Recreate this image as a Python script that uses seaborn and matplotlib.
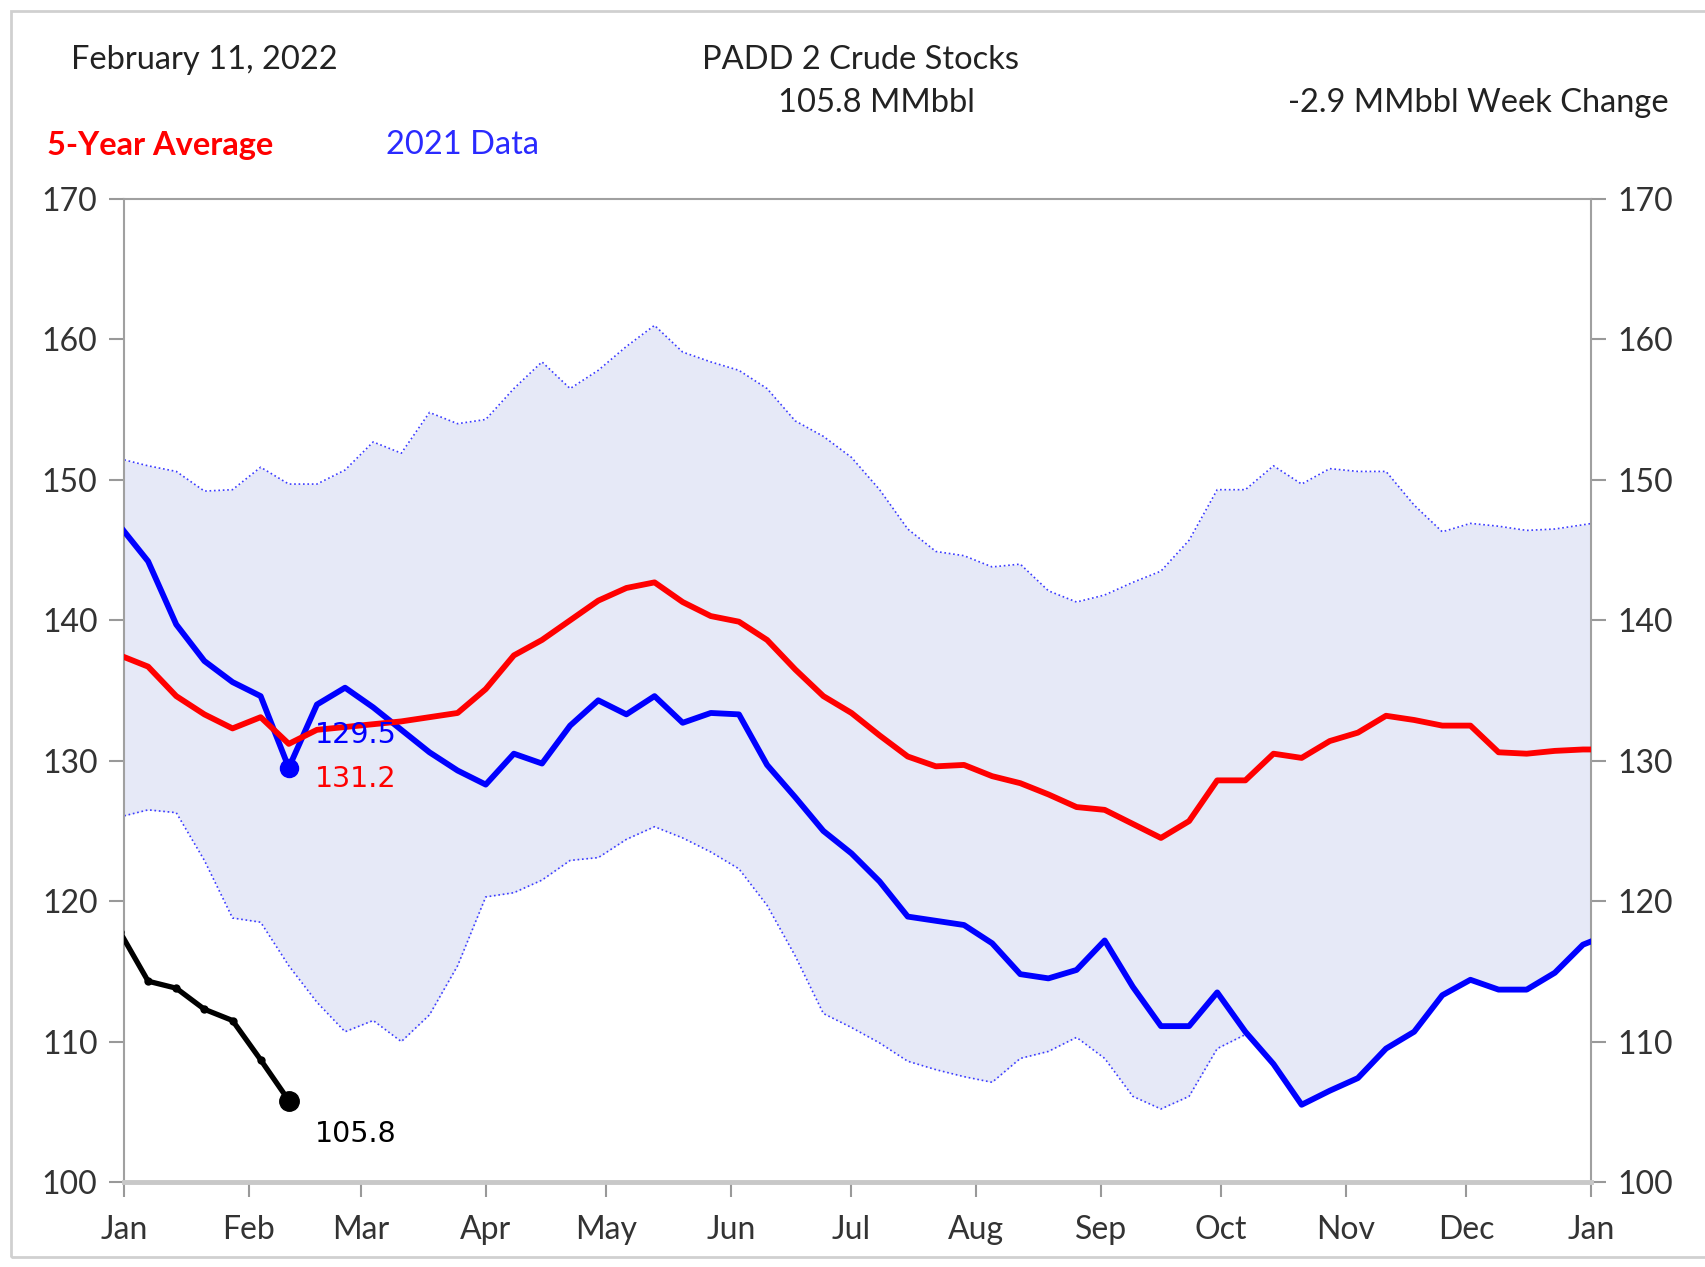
import numpy as np
import pandas as pd
import matplotlib
matplotlib.use("Agg")
import matplotlib.pyplot as plt
from matplotlib.patches import Rectangle
import seaborn as sns

# weekly points, day-of-year (week ending Fridays aligned to 2022)
week_days = np.arange(-1, 371, 7)

five_year_avg = [137.5, 136.7, 134.6, 133.3, 132.3, 133.1, 131.2, 132.2, 132.4, 132.6,
                 132.8, 133.1, 133.4, 135.1, 137.5, 138.6, 140.0, 141.4, 142.3, 142.7,
                 141.3, 140.3, 139.9, 138.6, 136.5, 134.6, 133.4, 131.8, 130.3, 129.6,
                 129.7, 128.9, 128.4, 127.6, 126.7, 126.5, 125.5, 124.5, 125.7, 128.6,
                 128.6, 130.5, 130.2, 131.4, 132.0, 133.2, 132.9, 132.5, 132.5, 130.6,
                 130.5, 130.7, 130.8, 130.8]

data_2021 = [146.7, 144.2, 139.7, 137.1, 135.6, 134.6, 129.5, 134.0, 135.2, 133.8,
             132.2, 130.6, 129.3, 128.3, 130.5, 129.8, 132.5, 134.3, 133.3, 134.6,
             132.7, 133.4, 133.3, 129.7, 127.4, 125.0, 123.4, 121.4, 118.9, 118.6,
             118.3, 117.0, 114.8, 114.5, 115.1, 117.2, 113.9, 111.1, 111.1, 113.5,
             110.7, 108.4, 105.5, 106.5, 107.4, 109.5, 110.7, 113.3, 114.4, 113.7,
             113.7, 114.9, 116.9, 117.7]

range_upper = [151.5, 151.0, 150.6, 149.2, 149.3, 150.9, 149.7, 149.7, 150.7, 152.7,
               151.9, 154.8, 154.0, 154.3, 156.5, 158.4, 156.5, 157.8, 159.5, 161.0,
               159.1, 158.4, 157.8, 156.5, 154.2, 153.1, 151.6, 149.3, 146.5, 144.9,
               144.6, 143.8, 144.0, 142.1, 141.3, 141.8, 142.7, 143.5, 145.7, 149.3,
               149.3, 151.0, 149.7, 150.8, 150.6, 150.6, 148.2, 146.3, 146.9, 146.7,
               146.4, 146.5, 146.8, 147.1]

range_lower = [126.0, 126.5, 126.3, 122.9, 118.8, 118.5, 115.4, 112.8, 110.7, 111.5,
               110.0, 111.9, 115.4, 120.3, 120.6, 121.5, 122.9, 123.1, 124.4, 125.3,
               124.5, 123.5, 122.3, 119.7, 116.1, 112.0, 111.0, 109.9, 108.6, 108.0,
               107.5, 107.1, 108.8, 109.3, 110.3, 108.8, 106.1, 105.2, 106.1, 109.5,
               110.5, 108.4, 105.5, 106.5, 107.4, 109.5, 110.7, 113.3, 114.4, 113.7,
               113.7, 114.9, 116.9, 117.7]

days_2022 = [-1, 6, 13, 20, 27, 34, 41]
data_2022 = [117.8, 114.3, 113.8, 112.3, 111.5, 108.7, 105.8]

month_starts = [0, 31, 59, 90, 120, 151, 181, 212, 243, 273, 304, 334, 365]
month_labels = ["Jan", "Feb", "Mar", "Apr", "May", "Jun", "Jul", "Aug", "Sep",
                "Oct", "Nov", "Dec", "Jan"]
y_ticks = [100, 110, 120, 130, 140, 150, 160, 170]

sns.set_style("white")
plt.rcParams["font.family"] = ["Lato", "DejaVu Sans"]

W, H = 1705, 1267
fig = plt.figure(figsize=(W / 100, H / 100), dpi=100)
ax = fig.add_axes([124 / W, 1 - 1182 / H, (1591 - 124) / W, (1182 - 199) / H])

# outer frame
fig.patches.append(Rectangle((11 / W, 1 - 1257 / H), 1.0, (1257 - 11) / H,
                             transform=fig.transFigure, fill=False,
                             edgecolor="#d0d0d0", linewidth=2))

ax.fill_between(week_days, range_lower, range_upper, color="#e6e9f7", lw=0, zorder=1)
sns.lineplot(x=week_days, y=range_upper, ax=ax, color="#3b3bff", lw=1.2,
             linestyle=":", zorder=2)
sns.lineplot(x=week_days, y=range_lower, ax=ax, color="#3b3bff", lw=1.2,
             linestyle=":", zorder=2)
sns.lineplot(x=week_days, y=data_2021, ax=ax, color="#0000ff", lw=4.2, zorder=3)
sns.lineplot(x=week_days, y=five_year_avg, ax=ax, color="#ff0000", lw=4.2, zorder=4)
sns.lineplot(x=days_2022, y=data_2022, ax=ax, color="black", lw=3.8,
             marker="o", markersize=6, markeredgewidth=0, zorder=5)

last_day = days_2022[-1]
wk = week_days.tolist().index(last_day)
ax.plot([last_day], [data_2021[wk]], "o", color="#0000ff", markersize=13, zorder=6)
ax.plot([last_day], [data_2022[-1]], "o", color="black", markersize=14, zorder=6)

ann_kw = dict(textcoords="offset pixels", ha="left", va="center",
              fontsize=20.5, fontfamily="DejaVu Sans")
ax.annotate(f"{data_2021[wk]:.1f}", xy=(last_day, data_2021[wk]), xytext=(26, 33),
            color="#0000ff", zorder=7, **ann_kw)
ax.annotate(f"{five_year_avg[wk]:.1f}", xy=(last_day, five_year_avg[wk]), xytext=(26, -35),
            color="#ff0000", zorder=7, **ann_kw)
ax.annotate(f"{data_2022[-1]:.1f}", xy=(last_day, data_2022[-1]), xytext=(26, -33),
            color="black", zorder=7, **ann_kw)

ax.set_xlim(0, 365)
ax.set_ylim(100, 170)
ax.set_xticks(month_starts)
ax.set_xticklabels(month_labels)
ax.set_yticks(y_ticks)
ax.set_xlabel("")
ax.set_ylabel("")
ax.tick_params(axis="both", colors="#999999", labelcolor="#333333", labelsize=23,
               length=11, width=1.5)
ax.tick_params(axis="y", left=True, right=True, labelleft=True, labelright=True, pad=8)
ax.tick_params(axis="x", bottom=True, pad=13)
for side in ["left", "right", "top"]:
    ax.spines[side].set_color("#a0a0a0")
    ax.spines[side].set_linewidth(1.5)
ax.spines["bottom"].set_color("#c8c8c8")
ax.spines["bottom"].set_linewidth(3.5)
ax.grid(False)

# header texts
fs = 23.5
fig.text(71 / W, 1 - 60 / H, "February 11, 2022", fontsize=fs, color="#222222",
         ha="left", va="center")
fig.text(861 / W, 1 - 60 / H, "PADD 2 Crude Stocks", fontsize=fs, color="#222222",
         ha="center", va="center")
fig.text(876 / W, 1 - 103 / H, f"{data_2022[-1]:.1f} MMbbl", fontsize=fs,
         color="#222222", ha="center", va="center")
week_change = data_2022[-1] - data_2022[-2]
fig.text(1669 / W, 1 - 103 / H, f"{week_change:.1f} MMbbl Week Change", fontsize=fs,
         color="#222222", ha="right", va="center")
fig.text(47 / W, 1 - 145 / H, "5-Year Average", fontsize=fs, color="#ff0000",
         fontweight="bold", ha="left", va="center")
fig.text(386 / W, 1 - 145 / H, "2021 Data", fontsize=fs, color="#2a2aff",
         ha="left", va="center")

fig.savefig("out.png", dpi=100)
